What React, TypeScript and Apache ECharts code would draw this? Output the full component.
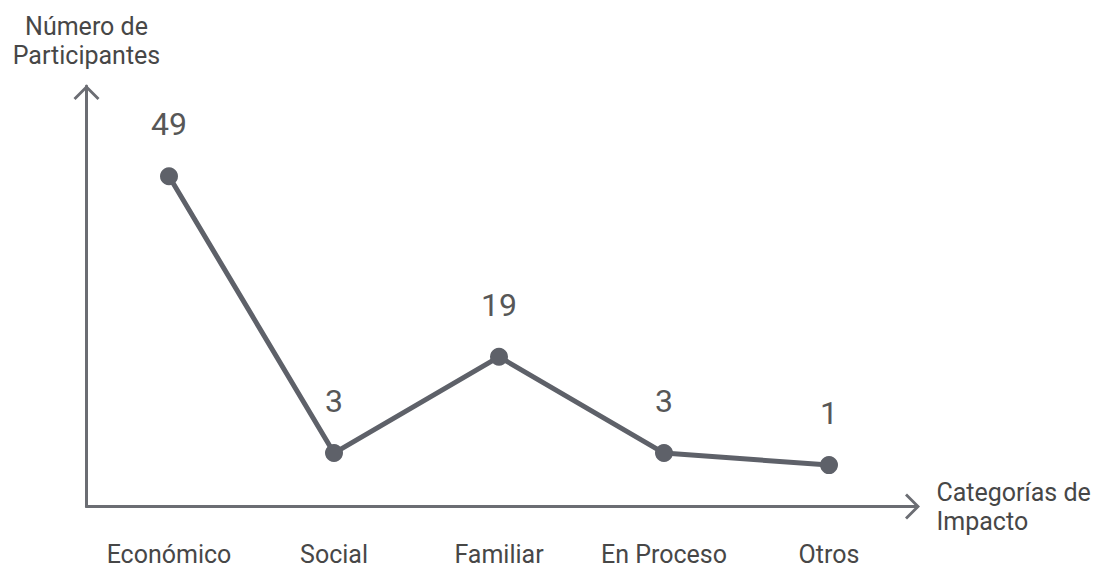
import React, { useEffect, useRef } from "react";
import * as echarts from "echarts";

const categories = ["Económico", "Social", "Familiar", "En Proceso", "Otros"];
const participantes = [49, 3, 19, 3, 1];
const yAxisName = "Número de\nParticipantes";
const xAxisName = "Categorías de\nImpacto";

const ARROW =
  "path://M13 0 L26 13 L24 15 L14.5 5.5 L14.5 16 L11.5 16 L11.5 5.5 L2 15 L0 13 Z";

export default function App() {
  const ref = useRef<HTMLDivElement>(null);
  useEffect(() => {
    if (!ref.current) return;
    const chart = echarts.init(ref.current, null, { renderer: "svg" });
    const axisColor = "#6b6d73";
    const textColor = "#474747";
    chart.setOption({
      animation: false,
      backgroundColor: "#ffffff",
      textStyle: { fontFamily: "Roboto" },
      grid: { left: 86.5, top: 86, width: 825, bottom: 60 },
      xAxis: {
        type: "category",
        data: categories,
        boundaryGap: true,
        name: xAxisName,
        nameLocation: "end",
        nameGap: 25,
        nameTextStyle: {
          fontSize: 25,
          color: textColor,
          fontFamily: "Roboto",
          lineHeight: 29,
          align: "left",
          verticalAlign: "middle",
        },
        axisLine: {
          show: true,
          onZero: false,
          symbol: ["none", ARROW],
          symbolSize: [26, 16],
          symbolOffset: [0, 0.5],
          lineStyle: { color: axisColor, width: 3 },
        },
        axisTick: { show: false },
        axisLabel: {
          fontSize: 25,
          lineHeight: 20,
          color: textColor,
          fontFamily: "Roboto",
          margin: 38,
        },
        splitLine: { show: false },
      },
      yAxis: {
        type: "value",
        min: -5.88,
        max: 64,
        name: yAxisName,
        nameLocation: "end",
        nameGap: 16,
        nameTextStyle: {
          fontSize: 25,
          color: textColor,
          fontFamily: "Roboto",
          lineHeight: 29,
          align: "center",
        },
        axisLine: {
          show: true,
          symbol: ["none", ARROW],
          symbolSize: [26, 16],
          symbolOffset: [0, -7],
          lineStyle: { color: axisColor, width: 3 },
        },
        axisTick: { show: false },
        axisLabel: { show: false },
        splitLine: { show: false },
      },
      series: [
        {
          type: "line",
          data: participantes,
          symbol: "circle",
          symbolSize: 18,
          lineStyle: { color: "#5e6169", width: 5 },
          itemStyle: { color: "#5e6169" },
          label: {
            show: true,
            position: "top",
            distance: 27,
            fontSize: 32,
            color: "#575757",
            fontFamily: "Roboto",
          },
        },
      ],
    });
    return () => chart.dispose();
  }, []);
  return (
    <div
      ref={ref}
      style={{ position: "absolute", left: 0, top: 0, width: 1101, height: 567 }}
    />
  );
}
